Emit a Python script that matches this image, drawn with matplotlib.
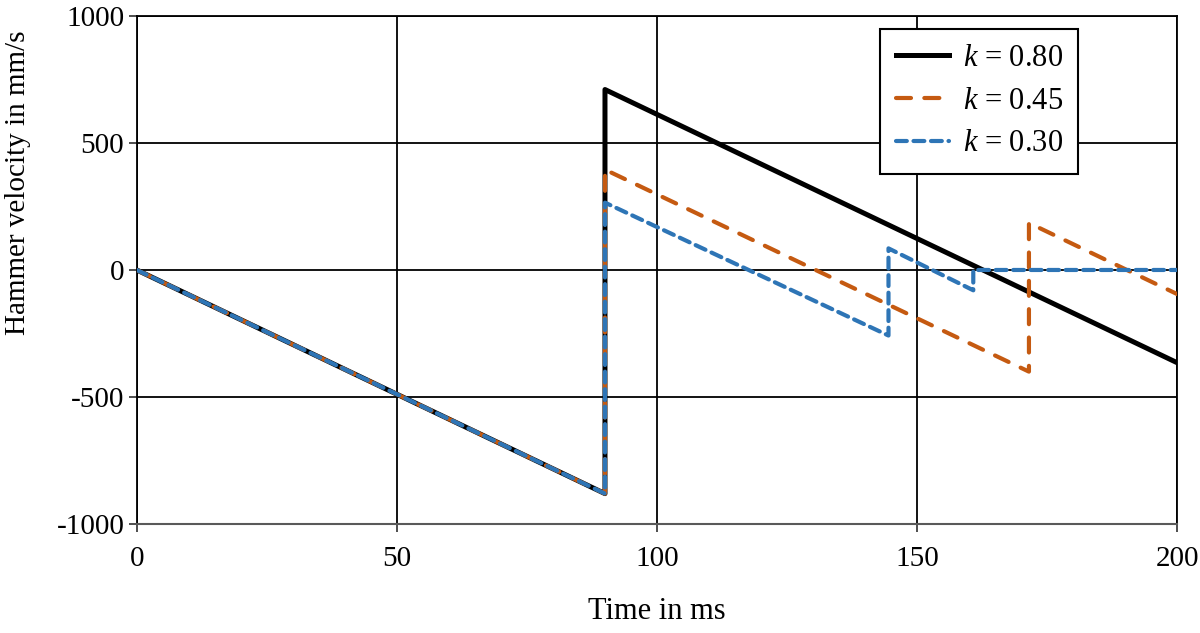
import matplotlib.pyplot as plt

plt.rcParams['font.family'] = ['Liberation Serif', 'DejaVu Serif']
plt.rcParams['mathtext.fontset'] = 'custom'
plt.rcParams['mathtext.it'] = 'Liberation Serif:italic'
plt.rcParams['mathtext.rm'] = 'Liberation Serif'
plt.rcParams['axes.unicode_minus'] = False

# hammer velocity (mm/s) vs time (ms)
t_k080 = [0, 90, 90, 200]
v_k080 = [0, -880, 710, -365]
t_k045 = [0, 90, 90, 171.5, 171.5, 200]
v_k045 = [0, -880, 395, -400, 185, -95]
t_k030 = [0, 90, 90, 144.5, 144.5, 160.8, 160.8, 200]
v_k030 = [0, -880, 265, -258, 85, -80, 0, 0]

x_ticks = [0, 50, 100, 150, 200]
y_ticks = [-1000, -500, 0, 500, 1000]

fig = plt.figure(figsize=(12, 6.33), dpi=100)
ax = fig.add_axes([0.114, 0.172, 0.867, 0.803])

ax.grid(True, color='black', linewidth=1.3, zorder=0)
ax.set_axisbelow(True)

ax.plot(t_k080, v_k080, color='black', lw=3.6, label='$k$ = 0.80', zorder=3)
ax.plot(t_k045, v_k045, color='#C55A11', lw=3.0, dashes=(3.6, 3.2),
        dash_capstyle='round', label='$k$ = 0.45', zorder=4)
ax.plot(t_k030, v_k030, color='#2E75B6', lw=3.0, dashes=(2.6, 1.6),
        dash_capstyle='round', label='$k$ = 0.30', zorder=5)

ax.set_xlim(0, 200)
ax.set_ylim(-1000, 1000)
ax.set_xticks(x_ticks)
ax.set_yticks(y_ticks)
ax.tick_params(labelsize=21, length=6, width=1.3, color='#404040')
ax.tick_params(axis='x', pad=10)
ax.tick_params(axis='y', pad=3)

for s in ['top', 'right', 'left']:
    ax.spines[s].set_color('black')
    ax.spines[s].set_linewidth(1.3)
ax.spines['bottom'].set_color('#595959')
ax.spines['bottom'].set_linewidth(1.5)

ax.set_xlabel('Time in ms', fontsize=22)
ax.set_ylabel('Hammer velocity in mm/s', fontsize=21)
ax.xaxis.set_label_coords(0.5, -0.172)
ax.yaxis.set_label_coords(-0.114, 0.671)
ax.yaxis.label.set_va('center')
ax.xaxis.label.set_va('center')

leg = ax.legend(loc='upper right', bbox_to_anchor=(0.905, 0.975), fontsize=22,
                fancybox=False, framealpha=1, edgecolor='black',
                handlelength=1.75, handletextpad=0.45, borderpad=0.5,
                labelspacing=0.45, borderaxespad=0)
leg.get_frame().set_linewidth(1.5)

fig.savefig('out.png', dpi=100)
